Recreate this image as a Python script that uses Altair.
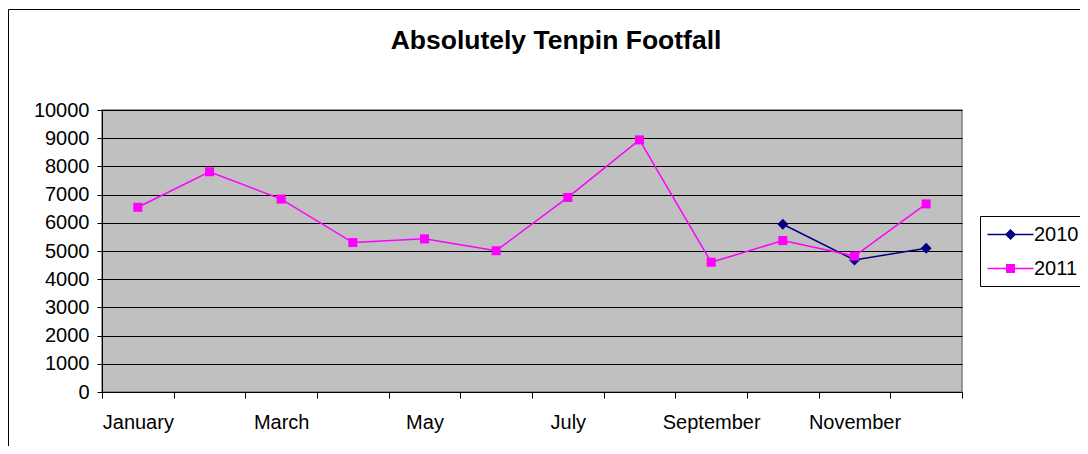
import json
import altair as alt
import pandas as pd

months = ["January", "February", "March", "April", "May", "June", "July",
          "August", "September", "October", "November", "December"]
series_names = ["2010", "2011"]
months_2010 = ["October", "November", "December"]
values_2010 = [5950, 4680, 5100]
values_2011 = [6550, 7810, 6840, 5300, 5430, 5010, 6900, 8940, 4600, 5370, 4820, 6670]
series_colors = ["#000080", "#FF00FF"]
marker_shapes = ["diamond", "square"]
marker_sizes = [120, 81]
y_ticks = list(range(0, 10001, 1000))

rows = []
for m, v in zip(months_2010, values_2010):
    rows.append({"series": "2010", "month": m, "footfall": v})
for m, v in zip(months, values_2011):
    rows.append({"series": "2011", "month": m, "footfall": v})
df = pd.DataFrame(rows)

W, H = 860, 282
FONT = "Liberation Sans"

color_scale = alt.Scale(domain=series_names, range=series_colors)

label_expr = ("indexof(" + json.dumps(months) + ", datum.value) % 2 === 0 ? datum.value : ''")

x_enc = alt.X(
    "month:N",
    scale=alt.Scale(type="band", domain=months, paddingInner=0, paddingOuter=0),
    axis=alt.Axis(title=None, tickBand="extent", labelExpr=label_expr, labelAngle=0,
                  tickColor="black", tickSize=6, domainColor="black", grid=False,
                  labelFont=FONT, labelFontSize=20, labelColor="black", labelPadding=14,
                  labelOverlap=False),
)
y_enc = alt.Y(
    "footfall:Q",
    scale=alt.Scale(domain=[0, 10000], nice=False),
    axis=alt.Axis(title=None, values=y_ticks, grid=True, gridColor="black", gridOpacity=1,
                  gridWidth=1, domainColor="black", tickColor="black", tickSize=5,
                  labelFont=FONT, labelFontSize=20, labelColor="black", labelPadding=8,
                  format="d"),
)

base = alt.Chart(df)

# legend-only layer: symbol = short line with marker, as in the original
seg = "M-2,-0.065H2V0.065H-2Z"
diamond_sym = seg + "M0,-0.48L0.48,0L0,0.48L-0.48,0Z"
square_sym = seg + "M-0.39,-0.39H0.39V0.39H-0.39Z"

leg = alt.Legend(title=None, orient="none", legendX=878, legendY=106,
                 fillColor="white", strokeColor="black", padding=7,
                 labelFont=FONT, labelFontSize=20, labelColor="black",
                 labelOffset=12, rowPadding=12, symbolSize=529, symbolStrokeWidth=0,
                 symbolOffset=12)

legend_layer = base.transform_filter("false").mark_point(filled=True, opacity=1, size=529).encode(
    x=x_enc, y=y_enc,
    color=alt.Color("series:N", scale=color_scale, legend=leg),
    shape=alt.Shape("series:N", scale=alt.Scale(domain=series_names, range=[diamond_sym, square_sym]),
                    legend=leg),
)

lines = base.mark_line(strokeWidth=1.5).encode(
    x=x_enc, y=y_enc,
    color=alt.Color("series:N", scale=color_scale, legend=None),
    detail="series:N",
)

point_layers = []
for name, shp, sz in zip(series_names, marker_shapes, marker_sizes):
    point_layers.append(
        base.transform_filter(alt.datum.series == name)
        .mark_point(filled=True, opacity=1, shape=shp, size=sz)
        .encode(x=x_enc, y=y_enc,
                color=alt.Color("series:N", scale=color_scale, legend=None))
    )

frame = alt.Chart(pd.DataFrame({"frame": [0]})).mark_rect(
    filled=False, stroke="black", strokeWidth=1
).encode(
    x=alt.value(-93.5), x2=alt.value(W + 300), y=alt.value(-100.5), y2=alt.value(H + 200)
)

chart = alt.layer(frame, legend_layer, lines, *point_layers).properties(
    width=W, height=H,
    background="white",
    title=alt.TitleParams("Absolutely Tenpin Footfall", font=FONT, fontSize=26.5, fontWeight="bold",
                          color="black", anchor="middle", dx=24, offset=-66, baseline="alphabetic"),
    autosize=alt.AutoSizeParams(type="none"),
    padding={"left": 94, "top": 102, "right": 118, "bottom": 54},
).configure_view(
    fill="#C0C0C0", stroke="#808080", strokeWidth=1.5
)

chart.save("out.html", embed_options={"renderer": "svg", "actions": False})
